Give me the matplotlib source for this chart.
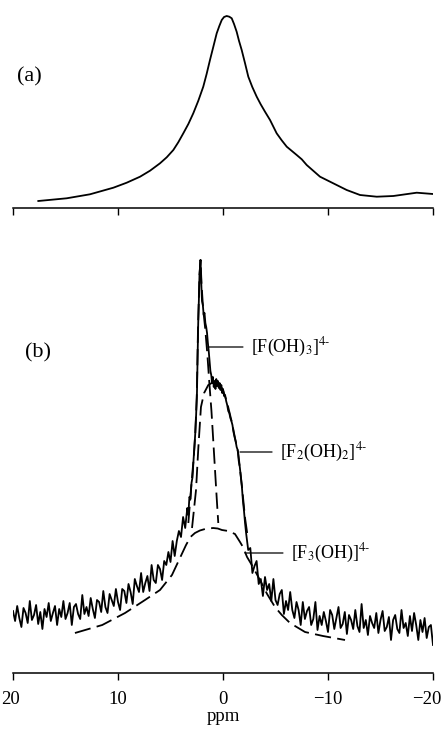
import matplotlib
matplotlib.use("Agg")
import matplotlib.pyplot as plt
from matplotlib.transforms import ScaledTranslation

plt.rcParams['font.family'] = ['Liberation Serif', 'DejaVu Serif']
plt.rcParams['mathtext.fontset'] = 'stix'

# ---------------- (a) spectrum: chemical shift (ppm) and intensity ----------------
a_ppm = [17.59, 14.89, 12.67, 10.44, 9.17, 7.90, 6.95, 6.00, 5.36, 4.73, 4.26, 3.78,
         3.30, 2.83, 2.35, 1.88, 1.56, 1.24, 0.92, 0.60, 0.35, 0.12, -0.10, -0.35,
         -0.60, -0.83, -1.05, -1.30, -1.52, -1.78, -2.10, -2.41, -2.79, -3.21, -3.59,
         -4.00, -4.48, -5.11, -5.59, -6.07, -7.02, -7.50, -7.97, -9.24, -10.50,
         -11.78, -13.05, -14.64, -16.22, -18.45, -20.0]
a_int = [7, 9.7, 13.7, 20.3, 25.3, 31.3, 37.3, 44.7, 50.7, 58, 65.7, 74.7,
         84, 94.7, 107.3, 121.3, 134, 148, 161.3, 174.7, 182, 188, 191, 192,
         191.3, 189.7, 184, 176.3, 167.3, 158, 144.7, 131.3, 121, 111.3, 103.7,
         96.3, 88, 74.7, 67.7, 61.3, 53, 48.7, 43, 31.3, 24.7,
         18, 13, 11.3, 12, 15.3, 14]

# ---------------- (b) measured spectrum ----------------
b_left_ppm = [20.0, 19.8, 19.6, 19.4, 19.2, 19.0, 18.8, 18.6, 18.4, 18.2, 18.0, 17.8,
              17.6, 17.4, 17.2, 17.0, 16.8, 16.6, 16.4, 16.2, 16.0, 15.8, 15.6, 15.4,
              15.2, 15.0, 14.8, 14.6, 14.4, 14.2, 14.0, 13.8, 13.6, 13.4, 13.2, 13.0,
              12.8, 12.6, 12.4, 12.2, 12.0, 11.8, 11.6, 11.4, 11.2, 11.0, 10.8, 10.6,
              10.4, 10.2, 10.0, 9.8, 9.6, 9.4, 9.2, 9.0, 8.8, 8.6, 8.4, 8.2, 8.0, 7.8,
              7.6, 7.4, 7.2, 7.0, 6.8, 6.6, 6.4, 6.2, 6.0, 5.8, 5.6, 5.4, 5.2, 5.0,
              4.8, 4.6, 4.4, 4.2, 4.0, 3.8, 3.6]
b_left_int = [62, 52, 67, 55, 46, 65, 60, 50, 72, 53, 58, 68,
              49, 61, 44, 64, 56, 70, 52, 60, 67, 48, 64, 56,
              72, 54, 60, 70, 48, 66, 69, 59, 54, 78, 59, 66,
              57, 75, 64, 55, 73, 71, 61, 82, 66, 60, 79, 73,
              67, 84, 71, 63, 84, 82, 70, 89, 81, 69, 94, 87, 81, 100,
              81, 90, 97, 82, 108, 93, 90, 108, 104, 93, 112, 108, 121, 111,
              132, 117, 132, 142, 136, 156, 145]

b_mid_ppm = [3.4, 3.3, 3.2, 3.1, 3.0, 2.9, 2.8, 2.72, 2.64, 2.56, 2.48, 2.42, 2.36,
             2.3, 2.24, 2.18, 2.14, 2.1, 2.05, 2.0, 1.92, 1.84, 1.76, 1.68, 1.6,
             1.52, 1.44, 1.36, 1.28, 1.2, 1.12, 1.04, 0.96, 0.88, 0.8, 0.72, 0.64,
             0.56, 0.48, 0.4, 0.32, 0.24, 0.16, 0.08, 0.0, -0.1, -0.2, -0.3, -0.4,
             -0.5, -0.6, -0.7, -0.8, -0.9, -1.0, -1.1, -1.2, -1.3, -1.4, -1.5, -1.6,
             -1.7, -1.8, -1.9, -2.0, -2.1, -2.2]
b_mid_int = [165, 158, 176, 174, 190, 196, 214, 226, 240, 258, 280, 318, 350,
             372, 398, 408, 413, 400, 384, 372, 368, 358, 360, 350, 346,
             340, 330, 322, 312, 302, 298, 290, 296, 286, 292, 284, 294,
             287, 292, 285, 290, 283, 288, 280, 284, 277, 278, 272, 268,
             262, 260, 255, 252, 248, 241, 236, 232, 226, 223, 212, 206,
             196, 186, 172, 162, 150, 140]

b_right_ppm = [-2.4, -2.6, -2.8, -3.0, -3.2, -3.4, -3.6, -3.8, -4.0, -4.2, -4.4, -4.6,
               -4.8, -5.0, -5.2, -5.4, -5.6, -5.8, -6.0, -6.2, -6.4, -6.6, -6.8, -7.0,
               -7.2, -7.4, -7.6, -7.8, -8.0, -8.2, -8.4, -8.6, -8.8, -9.0, -9.2, -9.4,
               -9.6, -9.8, -10.0, -10.2, -10.4, -10.6, -10.8, -11.0, -11.2, -11.4,
               -11.6, -11.8, -12.0, -12.2, -12.4, -12.6, -12.8, -13.0, -13.2, -13.4,
               -13.6, -13.8, -14.0, -14.2, -14.4, -14.6, -14.8, -15.0, -15.2, -15.4,
               -15.6, -15.8, -16.0, -16.2, -16.4, -16.6, -16.8, -17.0, -17.2, -17.4,
               -17.6, -17.8, -18.0, -18.2, -18.4, -18.6, -18.8, -19.0, -19.2, -19.4,
               -19.6, -19.8, -20.0]
b_right_int = [123, 125, 100, 107, 112, 89, 94, 77, 96, 83, 89, 72,
               94, 73, 68, 79, 83, 59, 72, 63, 81, 63, 55, 71,
               63, 48, 71, 54, 62, 66, 48, 54, 71, 43, 57, 48,
               61, 52, 41, 63, 58, 44, 55, 66, 45, 49,
               61, 39, 58, 53, 44, 63, 47, 41, 69, 45,
               53, 38, 57, 50, 45, 60, 40, 53, 62, 42,
               46, 56, 33, 53, 58, 44, 40, 63, 45, 50,
               37, 57, 42, 60, 48, 33, 53, 41, 55, 35,
               46, 48, 28]

# ---------------- (b) fitted components (dashed) ----------------
c1_ppm = [3.3, 3.0, 2.8, 2.64, 2.5, 2.38, 2.24, 2.14, 2.05, 1.9, 1.7, 1.5, 1.3, 1.1,
          1.0, 0.8, 0.6, 0.45]
c1_int = [150, 190, 214, 240, 275, 345, 398, 413, 390, 365, 345, 320, 290, 262,
          245, 210, 175, 150]

c2_ppm = [2.95, 2.75, 2.57, 2.35, 2.1, 1.8, 1.4, 0.9, 0.4, 0.0, -0.4, -0.86, -1.2,
          -1.45, -1.8, -2.1, -2.3]
c2_int = [145, 165, 183, 225, 266, 280, 288, 291, 290, 283, 270, 250, 232,
          220, 187, 155, 140]

c3_ppm = [14.1, 11.5, 9.33, 7.43, 6.0, 4.86, 4.1, 3.52, 3.1, 2.67, 2.2, 1.71, 0.95,
          0.5, 0.1, -0.5, -1.14, -1.62, -1.9, -2.29, -2.8, -3.52, -4.2, -4.95,
          -5.6, -6.38, -7.81, -9.52, -11.62]
c3_int = [40, 48, 60, 73, 83, 98, 115, 128, 136, 140, 142.5, 144, 145,
          144.5, 143, 142, 139, 131, 126, 116, 107, 93, 79, 66,
          58, 50, 41, 37, 33]

# species labels: text, leader start (ppm, intensity), leader end ppm, text ppm
species = [r'[F(OH)$_3$]$^{4\text{-}}$', r'[F$_2$(OH)$_2$]$^{4\text{-}}$',
           r'[F$_3$(OH)]$^{4\text{-}}$']
lead_ppm = [1.43, -1.62, -2.1]
lead_int = [326, 221, 120]
lead_end = [-1.9, -4.67, -5.71]
text_ppm = [-2.7, -5.4, -6.5]

xticks = [20, 10, 0, -10, -20]
xtick_labels = ['20', '10', '0', '\u221210', '\u221220']

fig = plt.figure(figsize=(4.46, 7.29), dpi=100)
W, H = 446.0, 729.0
ax_a = fig.add_axes([13 / W, 1 - 208 / H, 420 / W, 198 / H])
ax_b = fig.add_axes([13 / W, 1 - 673 / H, 420 / W, 423 / H])

for ax in (ax_a, ax_b):
    ax.set_xlim(20, -20)
    for side in ('left', 'right', 'top'):
        ax.spines[side].set_visible(False)
    ax.spines['bottom'].set_linewidth(1.1)
    ax.set_yticks([])
    ax.set_xticks(xticks)
    ax.tick_params(axis='x', direction='out', length=5, width=1.0, pad=8,
                   labelsize=13.5, color='black')
    ax.patch.set_alpha(0)

ax_a.set_ylim(0, 198)
ax_a.set_xticklabels([])
ax_a.plot(a_ppm, a_int, color='black', lw=1.3, solid_joinstyle='round')
ax_a.text(18.4, 131, '(a)', fontsize=16, ha='center', va='center')

ax_b.set_ylim(0, 423)
ax_b.set_xticklabels(xtick_labels)
ax_b.set_xlabel('ppm', fontsize=13.5, labelpad=0)

# nudge the outermost tick labels inward so they stay on the canvas
labels = ax_b.get_xticklabels()
labels[0].set_transform(labels[0].get_transform() +
                        ScaledTranslation(-3 / 100, 0, fig.dpi_scale_trans))
labels[-1].set_transform(labels[-1].get_transform() +
                         ScaledTranslation(-6 / 100, 0, fig.dpi_scale_trans))

b_ppm = b_left_ppm + b_mid_ppm + b_right_ppm
b_int = b_left_int + b_mid_int + b_right_int
ax_b.plot(b_ppm, b_int, color='black', lw=1.3)

dash = (0, (9, 3.5))
for cp, ci in ((c1_ppm, c1_int), (c2_ppm, c2_int), (c3_ppm, c3_int)):
    ax_b.plot(cp, ci, color='black', lw=1.3, linestyle=dash)

ax_b.text(17.6, 320, '(b)', fontsize=16, ha='center', va='center')

for lab, x0, y0, x1, xt in zip(species, lead_ppm, lead_int, lead_end, text_ppm):
    ax_b.annotate('', xy=(x0, y0), xytext=(x1, y0),
                  arrowprops=dict(arrowstyle='-', color='black', lw=0.9,
                                  shrinkA=0, shrinkB=0))
    ax_b.text(xt, y0, lab, fontsize=13, ha='left', va='center')

fig.savefig('out.png', dpi=100)
